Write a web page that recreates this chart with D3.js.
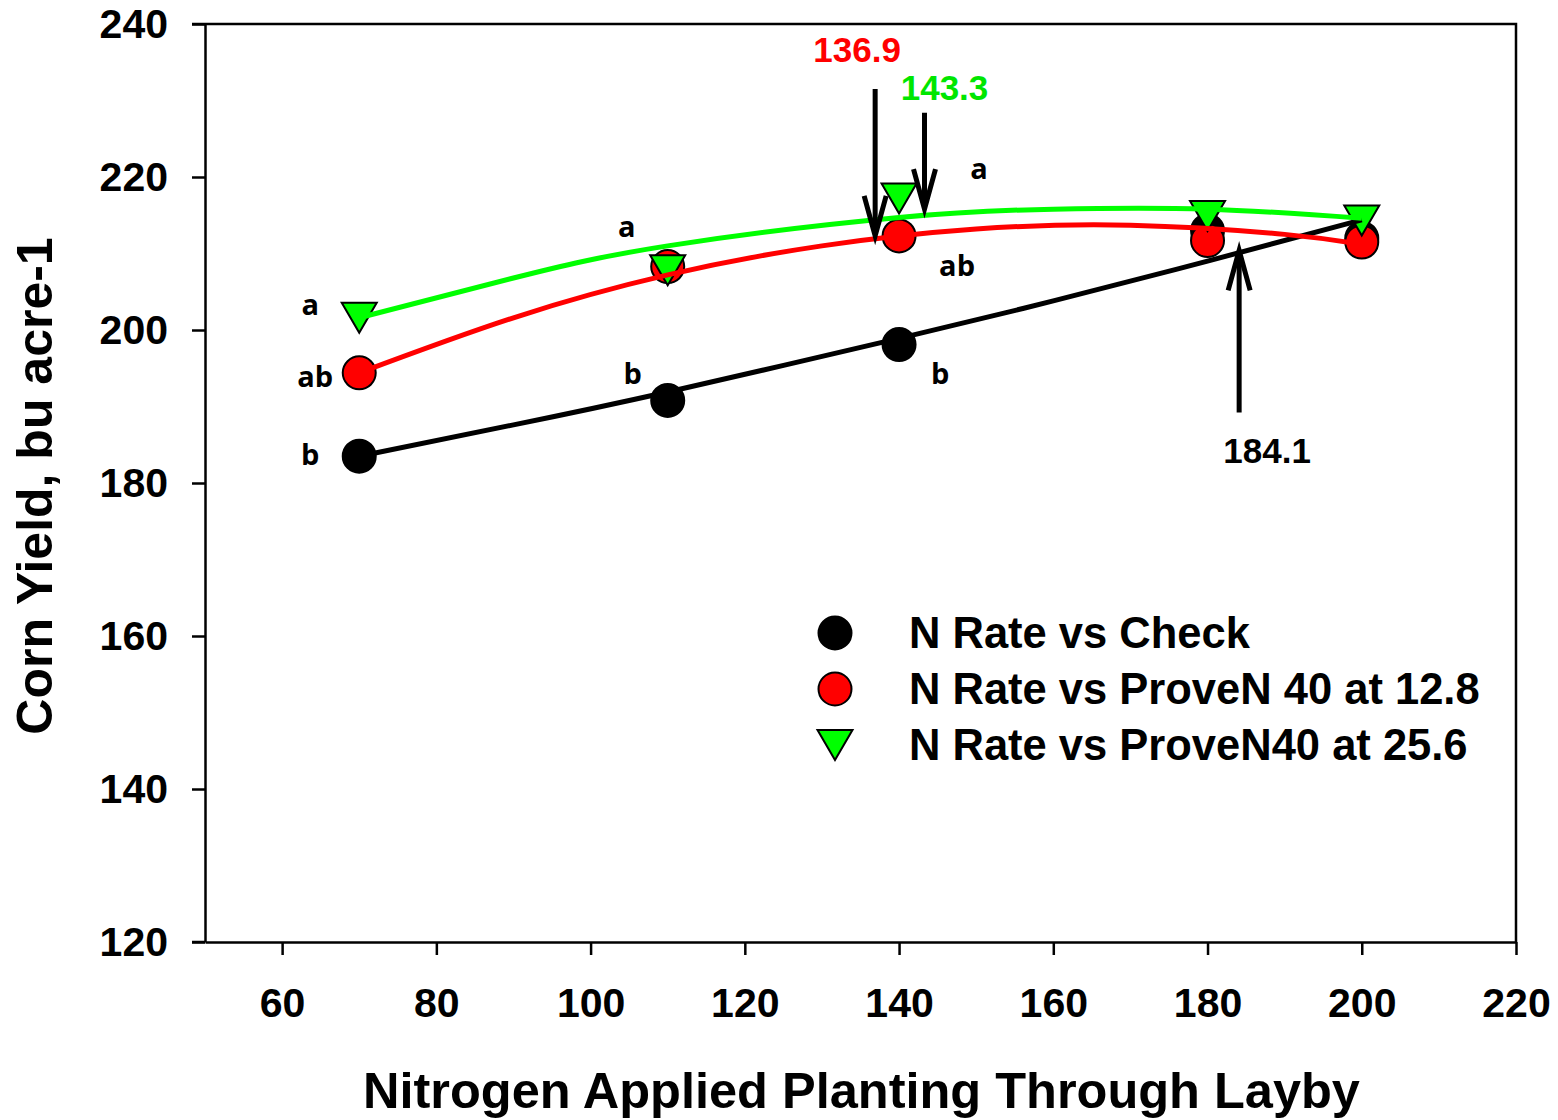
<!DOCTYPE html>
<html>
<head>
<meta charset="utf-8">
<script src="https://cdn.jsdelivr.net/npm/d3@7"></script>
<style>
  html, body { margin: 0; padding: 0; background: #fff; }
  svg { display: block; }
  text { font-family: "Liberation Sans", Arial, sans-serif; font-weight: bold; }
  .sep { font-family: "Open Sans", "DejaVu Sans", sans-serif; font-weight: bold; }
</style>
</head>
<body>
<svg id="chart" width="1558" height="1120"></svg>
<script>
// N rates (lb/acre) and yields (bu/acre)
const nRates = [70, 110, 140, 180, 200];
const yieldCheck   = [183.5, 190.8, 198.1, 213.0, 212.0];
const yieldProve128 = [194.4, 208.3, 212.3, 211.7, 211.5];
const yieldProve256 = [201.6, 207.8, 217.2, 214.9, 214.3];

// Fitted response curves
const fitCheckX = [70, 90, 110, 140, 160, 180, 200];
const fitCheckY = [183.5, 187.6, 191.9, 198.9, 203.8, 209.0, 214.4];
const fitRedX = [70, 90, 110, 130, 150, 170, 190, 200];
const fitRedY = [194.4, 201.6, 207.2, 211.0, 213.2, 213.7, 212.5, 211.2];
const fitGreenX = [70, 90, 110, 140, 160, 180, 200];
const fitGreenY = [201.6, 206.8, 211.0, 214.7, 215.8, 215.8, 214.6];

// Separation letters
const sepLetters = ["b", "b", "b", "ab", "ab", "a", "a", "a"];
const sepX = [70, 110, 140, 70, 140, 70, 110, 140];
const sepY = [183.5, 190.8, 198.1, 194.4, 212.3, 201.6, 208.3, 217.2];

// Optimum N rate callouts
const optValues = [136.9, 143.3, 184.1];
const optLabels = ["136.9", "143.3", "184.1"];
const optColors = ["#ff0000", "#00e600", "#000000"];
const optFrom = [231.5, 228.4, 189.2];
const optTo = [212.3, 215.8, 210.4];

const xTicks = [60, 80, 100, 120, 140, 160, 180, 200, 220];
const yTicks = [120, 140, 160, 180, 200, 220, 240];

const legendLabels = ["N Rate vs Check", "N Rate vs ProveN 40 at 12.8", "N Rate vs ProveN40 at 25.6"];

const svg = d3.select("#chart");
const x = d3.scaleLinear().domain([50, 220]).range([205, 1516]);
const y = d3.scaleLinear().domain([120, 240]).range([942, 24]);

// Frame (top and right borders)
svg.append("path")
  .attr("d", `M${x(50)},${y(240)}H${x(220)}V${y(120)}`)
  .attr("fill", "none").attr("stroke", "#000").attr("stroke-width", 2.5);

// Axes
const xAxis = svg.append("g").attr("transform", `translate(0,${y(120)})`)
  .call(d3.axisBottom(x).tickValues(xTicks).tickSize(13).tickPadding(33).tickSizeOuter(0));
const yAxis = svg.append("g").attr("transform", `translate(${x(50)},0)`)
  .call(d3.axisLeft(y).tickValues(yTicks).tickSize(13).tickPadding(24).tickSizeOuter(0));
[xAxis, yAxis].forEach(g => {
  g.select(".domain").attr("stroke-width", 2.5);
  g.selectAll(".tick line").attr("stroke-width", 2.5);
  g.selectAll(".tick text").attr("font-size", 41).attr("font-family", '"Liberation Sans", Arial, sans-serif')
    .attr("font-weight", "bold").attr("fill", "#000");
});
// extend axis lines to meet outer ticks
svg.append("line").attr("x1", x(50) - 13).attr("x2", x(50)).attr("y1", y(120)).attr("y2", y(120))
  .attr("stroke", "#000").attr("stroke-width", 2.5);
svg.append("line").attr("x1", x(50) - 13).attr("x2", x(50)).attr("y1", y(240)).attr("y2", y(240))
  .attr("stroke", "#000").attr("stroke-width", 2.5);
xAxis.selectAll(".tick text").attr("dy", "0.71em");

// Axis titles
svg.append("text").attr("x", (x(50) + x(220)) / 2 + 1).attr("y", 1108)
  .attr("text-anchor", "middle").attr("font-size", 50.5)
  .text("Nitrogen Applied Planting Through Layby");
svg.append("text").attr("transform", `translate(52,${486}) rotate(-90)`)
  .attr("text-anchor", "middle").attr("font-size", 50)
  .text("Corn Yield, bu acre-1");

// Marker shapes
const tri = (cx, cy, w = 35, h = 30) =>
  `M${cx - w / 2},${cy - h / 2}L${cx + w / 2},${cy - h / 2}L${cx},${cy + h / 2}Z`;

// Points
const marks = svg.append("g");
marks.selectAll("circle.check").data(nRates).join("circle")
  .attr("cx", d => x(d)).attr("cy", (d, i) => y(yieldCheck[i])).attr("r", 16.5)
  .attr("fill", "#000").attr("stroke", "#000").attr("stroke-width", 2);
marks.selectAll("circle.red").data(nRates).join("circle")
  .attr("cx", d => x(d)).attr("cy", (d, i) => y(yieldProve128[i])).attr("r", 16.5)
  .attr("fill", "#ff0000").attr("stroke", "#000").attr("stroke-width", 2);
marks.selectAll("path.green").data(nRates).join("path")
  .attr("d", (d, i) => tri(x(d), y(yieldProve256[i])))
  .attr("fill", "#00ff00").attr("stroke", "#000").attr("stroke-width", 2).attr("stroke-linejoin", "miter");

// Fitted lines
const lineGen = d3.line().x(d => x(d[0])).y(d => y(d[1])).curve(d3.curveNatural);
const fits = [
  [d3.zip(fitCheckX, fitCheckY), "#000000"],
  [d3.zip(fitRedX, fitRedY), "#ff0000"],
  [d3.zip(fitGreenX, fitGreenY), "#00ff00"]
];
fits.forEach(([pts, col]) => {
  svg.append("path").attr("d", lineGen(pts)).attr("fill", "none")
    .attr("stroke", col).attr("stroke-width", 5).attr("stroke-linecap", "butt");
});

// Separation letters
const sepOffsets = [
  [-49, 9], [-35, -16], [41, 39], [-44, 14], [58, 40], [-49, -3], [-41, -30], [80, -19]
];
svg.selectAll("text.sep").data(sepLetters).join("text")
  .attr("class", "sep")
  .attr("x", (d, i) => x(sepX[i]) + sepOffsets[i][0])
  .attr("y", (d, i) => y(sepY[i]) + sepOffsets[i][1])
  .attr("text-anchor", "middle").attr("font-size", 29).attr("fill", "#000")
  .text(d => d);

// Optimum callouts: arrow at the optimum rate, label set beside it
const labelDx = [-18, 20, 28];
const labelY = [62, 100, 463];
optValues.forEach((v, i) => {
  const cx = x(v), y0 = y(optFrom[i]), y1 = y(optTo[i]);
  const dir = y1 > y0 ? 1 : -1;
  const headLen = 40, headHalf = 11;
  svg.append("line").attr("x1", cx).attr("x2", cx).attr("y1", y0).attr("y2", y1 - dir * 4)
    .attr("stroke", "#000").attr("stroke-width", 5);
  svg.append("path")
    .attr("d", `M${cx - headHalf},${y1 - dir * headLen}L${cx},${y1}L${cx + headHalf},${y1 - dir * headLen}`)
    .attr("fill", "none").attr("stroke", "#000").attr("stroke-width", 5).attr("stroke-linejoin", "miter");
  svg.append("text").attr("x", cx + labelDx[i]).attr("y", labelY[i]).attr("text-anchor", "middle")
    .attr("font-size", 35).attr("fill", optColors[i]).text(optLabels[i]);
});

// Legend
const legend = svg.append("g");
const legY = [633, 689, 745];
legendLabels.forEach((lab, i) => {
  if (i === 0) legend.append("circle").attr("cx", 835).attr("cy", legY[i]).attr("r", 16.5).attr("fill", "#000").attr("stroke", "#000").attr("stroke-width", 2);
  if (i === 1) legend.append("circle").attr("cx", 835).attr("cy", legY[i]).attr("r", 16.5).attr("fill", "#ff0000").attr("stroke", "#000").attr("stroke-width", 2);
  if (i === 2) legend.append("path").attr("d", tri(835, legY[i])).attr("fill", "#00ff00").attr("stroke", "#000").attr("stroke-width", 2);
  legend.append("text").attr("x", 909).attr("y", legY[i] + 15).attr("font-size", 43.5).attr("fill", "#000").text(lab);
});
</script>
</body>
</html>
